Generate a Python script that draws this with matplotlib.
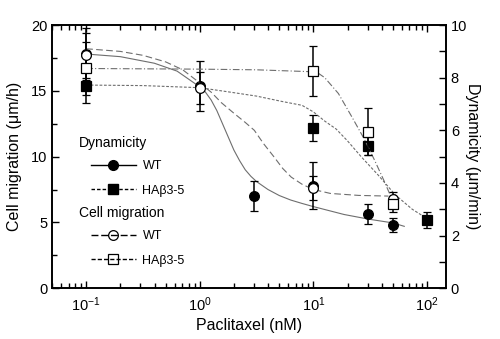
import numpy as np
import matplotlib
matplotlib.use("Agg")
import matplotlib.pyplot as plt
from matplotlib.lines import Line2D
from matplotlib.ticker import MultipleLocator, LogLocator, NullFormatter

plt.rcParams['font.family'] = ['Liberation Sans', 'DejaVu Sans']
plt.rcParams['mathtext.fontset'] = 'custom'
plt.rcParams['mathtext.rm'] = 'Liberation Sans'
plt.rcParams['mathtext.it'] = 'Liberation Sans:italic'

# measured points (dynamicity in um/min on the right axis, migration in um/h on the left)
dyn_wt_x = [0.1, 1, 3, 10, 30, 50]
dyn_wt_y = [8.9, 7.7, 3.5, 3.9, 2.8, 2.4]
dyn_wt_err = [1.0, 0.95, 0.56, 0.9, 0.38, 0.28]

dyn_ha_x = [0.1, 10, 30, 100]
dyn_ha_y = [7.7, 6.1, 5.4, 2.6]
dyn_ha_err = [0.65, 0.5, 0.35, 0.3]

mig_wt_x = [0.1, 1, 10, 50]
mig_wt_y = [17.7, 15.2, 7.6, 6.8]
mig_wt_err = [1.7, 1.2, 0.9, 0.5]

mig_ha_x = [0.1, 10, 30, 50]
mig_ha_y = [16.7, 16.5, 11.9, 6.4]
mig_ha_err = [2.0, 1.9, 1.8, 0.6]

# fitted curves (log10 of concentration, value)
dyn_wt_fit_logx = [-1.0, -0.7, -0.4, -0.2, 0.0, 0.05, 0.1, 0.15, 0.2, 0.25, 0.3, 0.35,
                   0.4, 0.45, 0.5, 0.6, 0.7, 0.8, 0.9, 1.0, 1.27, 1.49, 1.7, 1.8]
dyn_wt_fit_y = [8.9, 8.8, 8.55, 8.25, 7.65, 7.45, 7.15, 6.75, 6.25, 5.75, 5.25, 4.85,
                4.5, 4.25, 4.05, 3.75, 3.52, 3.35, 3.22, 3.1, 2.8, 2.62, 2.48, 2.35]

dyn_ha_fit_logx = [-1.0, -0.5, 0.0, 0.27, 0.5, 0.72, 0.9, 1.0, 1.1, 1.2, 1.3, 1.42,
                   1.57, 1.72, 1.87, 1.98]
dyn_ha_fit_y = [7.72, 7.7, 7.62, 7.45, 7.3, 7.1, 6.95, 6.7, 6.35, 6.05, 5.6, 5.0,
                4.3, 3.55, 3.0, 2.7]

mig_wt_fit_logx = [-1.0, -0.7, -0.5, -0.3, -0.15, 0.0, 0.1, 0.19, 0.3, 0.4, 0.48, 0.56,
                   0.655, 0.73, 0.805, 0.9, 1.0, 1.15, 1.4, 1.66]
mig_wt_fit_y = [18.2, 18.0, 17.7, 17.2, 16.6, 15.6, 14.9, 14.1, 13.3, 12.6, 12.0, 11.0,
                9.96, 9.1, 8.44, 7.9, 7.5, 7.2, 7.05, 7.0]

mig_ha_fit_logx = [-1.0, 0.0, 0.5, 1.0, 1.05, 1.1, 1.22, 1.34, 1.45, 1.54, 1.62, 1.67, 1.71]
mig_ha_fit_y = [16.7, 16.65, 16.6, 16.45, 16.3, 16.0, 14.8, 13.0, 11.3, 9.7, 8.2, 7.2, 6.6]

fig = plt.figure(figsize=(5.0, 3.39), dpi=100)
ax = fig.add_axes([0.104, 0.150, 0.788, 0.776])
ax2 = ax.twinx()

curve_kw = dict(color='#6e6e6e', lw=0.8)
ax2.plot(10 ** np.array(dyn_wt_fit_logx), dyn_wt_fit_y, ls='-', **curve_kw)
ax2.plot(10 ** np.array(dyn_ha_fit_logx), dyn_ha_fit_y, ls=(0, (2.5, 1.5)), **curve_kw)
ax.plot(10 ** np.array(mig_wt_fit_logx), mig_wt_fit_y, ls=(0, (6, 3)), **curve_kw)
ax.plot(10 ** np.array(mig_ha_fit_logx), mig_ha_fit_y, ls=(0, (6, 2, 1, 2)), **curve_kw)

eb_kw = dict(ls='none', ecolor='black', elinewidth=1.1, capsize=3.2, capthick=1.1,
             markersize=7, markeredgewidth=0.9, markeredgecolor='black')
ax2.errorbar(dyn_wt_x, dyn_wt_y, yerr=dyn_wt_err, marker='o', mfc='black', **eb_kw)
ax2.errorbar(dyn_ha_x, dyn_ha_y, yerr=dyn_ha_err, marker='s', mfc='black', **eb_kw)
# open symbols on top so they sit over the filled ones
ax.set_zorder(ax2.get_zorder() + 1)
ax.patch.set_visible(False)
ax.errorbar(mig_wt_x, mig_wt_y, yerr=mig_wt_err, marker='o', mfc='white', **eb_kw)
ax.errorbar(mig_ha_x, mig_ha_y, yerr=mig_ha_err, marker='s', mfc='white', **eb_kw)

ax.set_xscale('log')
ax.set_xlim(0.05, 147)
ax.set_ylim(0, 20)
ax2.set_ylim(0, 10)

ax.yaxis.set_major_locator(MultipleLocator(5))
ax.yaxis.set_minor_locator(MultipleLocator(2.5))
ax2.yaxis.set_major_locator(MultipleLocator(2))
ax2.yaxis.set_minor_locator(MultipleLocator(1))
ax.xaxis.set_major_locator(LogLocator(base=10, numticks=10))
ax.xaxis.set_minor_locator(LogLocator(base=10, subs=np.arange(2, 10), numticks=10))
ax.xaxis.set_minor_formatter(NullFormatter())

ax.tick_params(axis='both', which='both', direction='in', labelsize=10.5, width=1.0)
ax.tick_params(axis='x', which='both', top=True)
ax.tick_params(axis='y', which='both', right=False)
ax.tick_params(which='major', length=5)
ax.tick_params(which='minor', length=3.5)
ax.tick_params(axis='x', which='major', pad=5)
ax2.tick_params(axis='y', which='both', direction='in', labelsize=10.5, width=1.0, length=5)

for sp in ax.spines.values():
    sp.set_linewidth(1.2)
for sp in ax2.spines.values():
    sp.set_linewidth(1.2)

ax.set_xlabel('Paclitaxel (nM)', fontsize=11.5, labelpad=3)
ax.set_ylabel('Cell migration (\u03bcm/h)', fontsize=11.5, labelpad=6)
ax2.set_ylabel('Dynamicity (\u03bcm/min)', fontsize=11.5, rotation=270, labelpad=9)

# legends
leg_kw = dict(loc='upper left', frameon=False, fontsize=9, numpoints=1,
              handlelength=3.6, handletextpad=0.55, labelspacing=1.0,
              borderpad=0, borderaxespad=0)
dyn_handles = [
    Line2D([], [], color='black', lw=1.0, ls='-', marker='o', mfc='black', mec='black', ms=7),
    Line2D([], [], color='black', lw=1.0, ls=(0, (2.5, 1.5)), marker='s', mfc='black', mec='black', ms=7),
]
mig_handles = [
    Line2D([], [], color='black', lw=1.0, ls=(0, (5, 2)), marker='o', mfc='none', mec='black', ms=7, mew=0.9),
    Line2D([], [], color='black', lw=1.0, ls=(0, (3, 1.5)), marker='s', mfc='none', mec='black', ms=7, mew=0.9),
]
leg1 = ax.legend(dyn_handles, ['WT', 'HA\u03b23-5'], bbox_to_anchor=(0.098, 0.487), **leg_kw)
ax.add_artist(leg1)
ax.legend(mig_handles, ['WT', 'HA\u03b23-5'], bbox_to_anchor=(0.098, 0.221), **leg_kw)
ax.text(0.069, 0.551, 'Dynamicity', transform=ax.transAxes, fontsize=10, va='center', ha='left')
ax.text(0.069, 0.285, 'Cell migration', transform=ax.transAxes, fontsize=10, va='center', ha='left')

fig.savefig('out.png', dpi=100)
